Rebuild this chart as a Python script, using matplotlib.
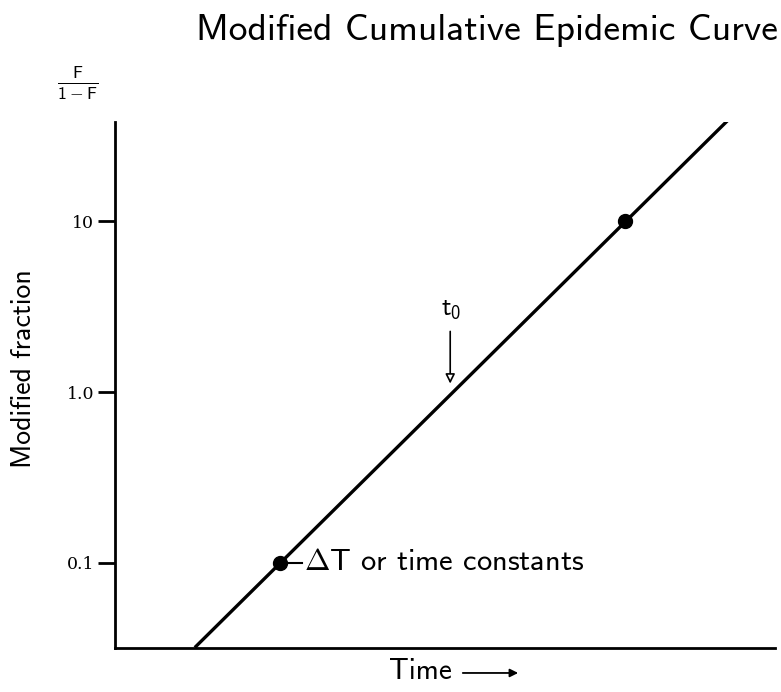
import matplotlib
matplotlib.use('Agg')
import matplotlib.pyplot as plt

plt.rcParams['font.family'] = ['cmss10', 'DejaVu Sans']
plt.rcParams['mathtext.fontset'] = 'custom'
plt.rcParams['mathtext.sf'] = 'cmss10'
plt.rcParams['mathtext.rm'] = 'cmss10'
plt.rcParams['axes.unicode_minus'] = False

# data (time in arbitrary units, y = F/(1-F))
line_t = [1.21, 9.29]
line_y = [0.032, 39.0]
point_t = [2.5, 7.73]
point_y = [0.1, 10.0]
ytick_vals = [0.1, 1.0, 10]
ytick_labels = ['0.1', '1.0', '10']
t0_t = 5.08
t0_y = 1.0

fig = plt.figure(figsize=(7.81, 6.92), dpi=100)
ax = fig.add_axes([0.1472, 0.0636, 0.845, 0.760])

ax.plot(line_t, line_y, color='black', lw=2.4, solid_capstyle='butt')
ax.plot(point_t, point_y, 'o', color='black', ms=10)

ax.set_yscale('log')
ax.set_xlim(0, 10)
ax.set_ylim(0.0318, 38)
ax.set_yticks(ytick_vals)
ax.set_yticklabels(ytick_labels, fontfamily='DejaVu Serif', fontsize=12.5)
ax.minorticks_off()
ax.set_xticks([])
ax.tick_params(axis='y', direction='out', length=12, width=2, pad=3)
for s in ['top', 'right']:
    ax.spines[s].set_visible(False)
for s in ['left', 'bottom']:
    ax.spines[s].set_linewidth(2)

# t0 arrow
ax.annotate('', xy=(t0_t, 1.08), xytext=(t0_t, 2.35),
            arrowprops=dict(arrowstyle='-|>', edgecolor='black', lw=1.2,
                            facecolor='white', mutation_scale=14))
ax.text(t0_t + 0.02, 2.6, r't$_0$', fontsize=19, ha='center', va='bottom')

# Delta T annotation
ax.plot([point_t[0] + 0.1, point_t[0] + 0.33], [0.1, 0.1], color='black', lw=1.5)
ax.text(point_t[0] + 0.36, 0.1, r'$\mathsf{\Delta}$T or time constants',
        fontsize=22, ha='left', va='center')

fig.text(0.6236, 0.9420, 'Modified Cumulative Epidemic Curve', fontsize=27,
         ha='center', va='baseline')
fig.text(0.030, 0.468, 'Modified fraction', fontsize=20, rotation=90,
         ha='center', va='center')
fig.text(0.099, 0.879, r'$\frac{\mathsf{F}}{\mathsf{1-F}}$', fontsize=18,
         ha='center', va='center')
fig.text(0.579, 0.019, 'Time', fontsize=21, ha='right', va='baseline')
ax.annotate('', xy=(0.667, 0.0275), xytext=(0.589, 0.0275), xycoords='figure fraction',
            textcoords='figure fraction', annotation_clip=False,
            arrowprops=dict(arrowstyle='-|>', color='black', lw=1.3, mutation_scale=12))

fig.savefig('out.png', dpi=100)
